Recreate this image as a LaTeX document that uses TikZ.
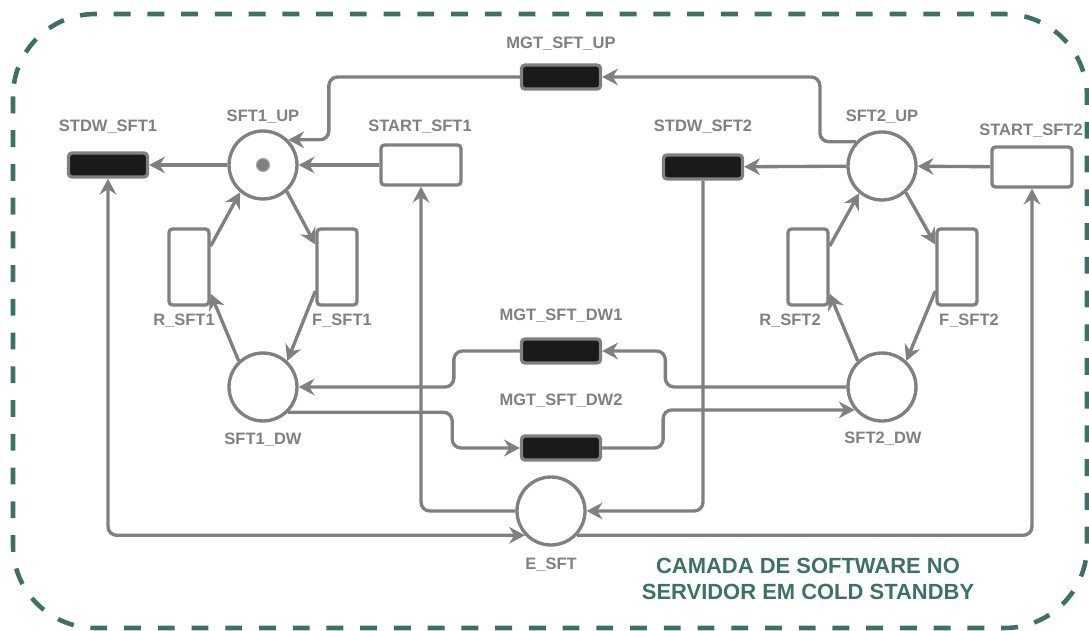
\documentclass[tikz,border=0pt]{standalone}
\usepackage{fontspec}
\setmainfont{Liberation Sans}
\usepackage{tikz}
\usepackage{xcolor}
\usetikzlibrary{arrows.meta, positioning, calc}
\definecolor{netGray}{RGB}{128,128,128}
\definecolor{coldTeal}{RGB}{58,115,102}
\definecolor{darkFill}{RGB}{26,26,26}
\tikzset{
    placenode/.style={
        circle,
        draw=netGray,
        line width=1.9pt,
        fill=white,
        minimum size=1.36cm,
        inner sep=0pt
    },
    transbox/.style={
        rectangle,
        draw=netGray,
        line width=1.9pt,
        rounded corners=2pt,
        fill=white,
        minimum width=1.6cm,
        minimum height=0.8cm,
        inner sep=0pt
    },
    vtransbox/.style={
        transbox,
        minimum width=0.8cm,
        minimum height=1.52cm
    },
    timedbox/.style={
        rectangle,
        draw=netGray,
        line width=1.9pt,
        rounded corners=2pt,
        fill=darkFill,
        minimum width=1.58cm,
        minimum height=0.48cm,
        inner sep=0pt
    },
    tokendot/.style={circle, fill=netGray, draw=netGray!70, line width=0.6pt, minimum size=0.26cm, inner sep=0pt},
    tagtext/.style={text=netGray, font=\bfseries\fontsize{9.4}{11}\selectfont, inner sep=0pt},
    layertext/.style={text=coldTeal, align=center, font=\bfseries\fontsize{12.5}{14.8}\selectfont, inner sep=0pt},
    flowarrow/.style={-{Stealth[length=9pt, width=9.5pt, inset=3pt]}, line width=1.9pt, draw=netGray, rounded corners=5pt},
    twoarrow/.style={{Stealth[length=9pt, width=9.5pt, inset=3pt]}-{Stealth[length=9pt, width=9.5pt, inset=3pt]}, line width=1.9pt, draw=netGray, rounded corners=5pt},
    borderline/.style={draw=coldTeal, line width=2.6pt, dash pattern=on 9.6pt off 9.6pt, rounded corners=1.65cm}
}
\begin{document}
\begin{tikzpicture}[x=0.02cm, y=-0.02cm]
    \useasboundingbox (0,0) rectangle (1089,631);
    \draw[borderline] (13,14) rectangle (1087,628);
    % server 1
    \node[timedbox] (stdw1) at (108,165) {};
    \node[placenode] (sft1up) at (263,165) {};
    \node[tokendot] (tok1) at (sft1up) {};
    \node[transbox] (start1) at (421,165) {};
    \node[vtransbox] (rsft1) at (189,267) {};
    \node[vtransbox] (fsft1) at (337,267) {};
    \node[placenode] (sft1dw) at (263,387) {};
    % shared
    \node[timedbox] (mgtup) at (561,77) {};
    \node[timedbox] (mgtdw1) at (561,351) {};
    \node[timedbox] (mgtdw2) at (561,448) {};
    \node[placenode] (esft) at (551,511) {};
    % server 2
    \node[timedbox] (stdw2) at (703,167) {};
    \node[placenode] (sft2up) at (882,166) {};
    \node[transbox] (start2) at (1032,167) {};
    \node[vtransbox] (rsft2) at (808,267) {};
    \node[vtransbox] (fsft2) at (957,267) {};
    \node[placenode] (sft2dw) at (882,387) {};
    % labels
    \node[tagtext] (tstdw1) at (108,127) {STDW\_SFT1};
    \node[tagtext] (tsft1up) at (263,117) {SFT1\_UP};
    \node[tagtext] (tstart1) at (420,127) {START\_SFT1};
    \node[tagtext] (trsft1) at (184,321) {R\_SFT1};
    \node[tagtext] (tfsft1) at (342,321) {F\_SFT1};
    \node[tagtext] (tsft1dw) at (263,440) {SFT1\_DW};
    \node[tagtext] (tmgtup) at (561,44) {MGT\_SFT\_UP};
    \node[tagtext] (tmgtdw1) at (561,316) {MGT\_SFT\_DW1};
    \node[tagtext] (tmgtdw2) at (561,401) {MGT\_SFT\_DW2};
    \node[tagtext] (tesft) at (551,565) {E\_SFT};
    \node[tagtext] (tstdw2) at (703,127) {STDW\_SFT2};
    \node[tagtext] (tsft2up) at (882,117) {SFT2\_UP};
    \node[tagtext] (tstart2) at (1031,131) {START\_SFT2};
    \node[tagtext] (trsft2) at (790,321) {R\_SFT2};
    \node[tagtext] (tfsft2) at (969,321) {F\_SFT2};
    \node[tagtext] (tsft2dw) at (883,439) {SFT2\_DW};
    \node[layertext] (layer) at (808,579) {CAMADA DE SOFTWARE NO\\SERVIDOR EM COLD STANDBY};
    % arcs of server 1
    \draw[flowarrow] (sft1up) -- (stdw1);
    \draw[flowarrow] (start1) -- (sft1up);
    \draw[flowarrow] (sft1up.-48) -- (fsft1.134);
    \draw[flowarrow] (fsft1.228) -- (sft1dw.47);
    \draw[flowarrow] (sft1dw.133) -- (rsft1.-51);
    \draw[flowarrow] (rsft1.44) -- (sft1up.230);
    % arcs of server 2
    \draw[flowarrow] (sft2up) -- (stdw2);
    \draw[flowarrow] (start2) -- (sft2up);
    \draw[flowarrow] (sft2up.-48) -- (fsft2.134);
    \draw[flowarrow] (fsft2.228) -- (sft2dw.47);
    \draw[flowarrow] (sft2dw.133) -- (rsft2.-51);
    \draw[flowarrow] (rsft2.44) -- (sft2up.230);
    % migrations
    \draw[flowarrow] (sft2up.137) -- ++(-36,0) |- (mgtup.east);
    \draw[flowarrow] (mgtup.west) -- ++(-191,0) |- (sft1up.45);
    \draw[flowarrow] (sft2dw.west) -- ++(-181,0) |- (mgtdw1.east);
    \draw[flowarrow] (mgtdw1.west) -- ++(-66,0) |- (sft1dw.east);
    \draw[flowarrow] (sft1dw.-45) -- ++(164,0) |- (mgtdw2.west);
    \draw[flowarrow] (mgtdw2.east) -- ++(61,0) |- (sft2dw.220);
    % spare place
    \draw[twoarrow] (stdw1.south) |- (esft.223);
    \draw[flowarrow] (esft.west) -| (start1.south);
    \draw[flowarrow] (stdw2.south) |- (esft.east);
    \draw[flowarrow] (esft.-43) -| (start2.south);
\end{tikzpicture}
\end{document}
